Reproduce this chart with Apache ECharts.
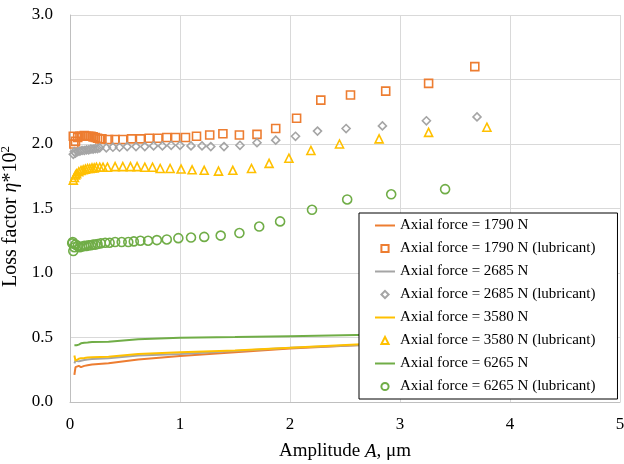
<!DOCTYPE html>
<html><head><meta charset="utf-8">
<script src="https://cdn.jsdelivr.net/npm/echarts@6/dist/echarts.min.js"></script>
<style>html,body{margin:0;padding:0;background:#fff}#c{width:624px;height:464px}</style>
</head><body><div id="c"></div>
<script>
// Amplitude ticks
const xTicks = [0, 1, 2, 3, 4, 5];
const yTicks = [0, 0.5, 1.0, 1.5, 2.0, 2.5, 3.0];

// Dry (no lubricant) lines
const lineX     = [0.04, 0.05, 0.06, 0.08, 0.10, 0.13, 0.16, 0.20, 0.35, 0.62, 1.0, 1.5, 2.0, 2.6, 3.2];
const line1790Y = [0.21, 0.27, 0.26, 0.28, 0.27, 0.28, 0.285, 0.29, 0.30, 0.33, 0.357, 0.385, 0.415, 0.44, 0.46];
const line2685Y = [0.30, 0.32, 0.31, 0.315, 0.32, 0.325, 0.33, 0.333, 0.34, 0.36, 0.373, 0.395, 0.42, 0.44, 0.46];
const line3580Y = [0.36, 0.32, 0.33, 0.335, 0.34, 0.342, 0.345, 0.347, 0.35, 0.372, 0.385, 0.40, 0.42, 0.445, 0.465];
const line6265Y = [0.44, 0.434, 0.44, 0.445, 0.455, 0.46, 0.462, 0.465, 0.467, 0.486, 0.498, 0.503, 0.51, 0.52, 0.525];

// Lubricant points [amplitude, loss factor]
const lub1790 = [[0.03,2.06],[0.035,2.00],[0.05,2.02],[0.07,2.05],[0.09,2.06],[0.11,2.06],[0.13,2.065],[0.15,2.06],[0.17,2.06],[0.19,2.06],[0.21,2.055],[0.23,2.05],[0.25,2.045],[0.27,2.04],[0.29,2.04],[0.35,2.035],[0.41,2.035],[0.48,2.035],[0.56,2.04],[0.64,2.04],[0.72,2.045],[0.80,2.045],[0.88,2.05],[0.96,2.05],[1.05,2.05],[1.15,2.06],[1.27,2.07],[1.39,2.08],[1.54,2.07],[1.70,2.075],[1.87,2.12],[2.06,2.20],[2.28,2.34],[2.55,2.38],[2.87,2.41],[3.26,2.47],[3.68,2.60]];
const lub2685 = [[0.03,1.92],[0.04,1.94],[0.05,1.93],[0.07,1.94],[0.09,1.945],[0.11,1.95],[0.13,1.95],[0.15,1.955],[0.17,1.955],[0.19,1.96],[0.21,1.96],[0.23,1.965],[0.25,1.965],[0.27,1.97],[0.33,1.97],[0.39,1.975],[0.45,1.975],[0.52,1.98],[0.60,1.98],[0.68,1.98],[0.76,1.985],[0.84,1.985],[0.92,1.99],[1.00,1.99],[1.10,1.985],[1.20,1.985],[1.28,1.98],[1.40,1.98],[1.545,1.99],[1.70,2.01],[1.87,2.03],[2.05,2.06],[2.25,2.10],[2.51,2.12],[2.84,2.14],[3.24,2.18],[3.70,2.21]];
const lub3580 = [[0.03,1.72],[0.04,1.74],[0.05,1.76],[0.06,1.77],[0.08,1.785],[0.10,1.795],[0.12,1.80],[0.14,1.805],[0.16,1.81],[0.18,1.81],[0.20,1.815],[0.22,1.815],[0.24,1.82],[0.27,1.82],[0.30,1.82],[0.34,1.82],[0.41,1.825],[0.48,1.825],[0.55,1.825],[0.61,1.825],[0.68,1.82],[0.75,1.82],[0.82,1.81],[0.91,1.81],[1.01,1.806],[1.11,1.80],[1.22,1.796],[1.35,1.79],[1.48,1.796],[1.65,1.81],[1.81,1.85],[1.99,1.89],[2.19,1.95],[2.45,2.00],[2.81,2.04],[3.26,2.09],[3.79,2.13]];
const lub6265 = [[0.02,1.23],[0.025,1.24],[0.03,1.17],[0.04,1.20],[0.05,1.22],[0.07,1.21],[0.09,1.20],[0.11,1.205],[0.13,1.21],[0.15,1.21],[0.17,1.215],[0.19,1.215],[0.21,1.22],[0.23,1.22],[0.25,1.225],[0.28,1.23],[0.32,1.235],[0.36,1.235],[0.41,1.24],[0.47,1.24],[0.53,1.24],[0.58,1.245],[0.64,1.25],[0.71,1.25],[0.79,1.255],[0.88,1.26],[0.985,1.27],[1.10,1.275],[1.22,1.28],[1.37,1.29],[1.54,1.31],[1.72,1.36],[1.91,1.40],[2.20,1.49],[2.52,1.57],[2.92,1.61],[3.41,1.65]];

const names = ['Axial force = 1790 N','Axial force = 1790 N (lubricant)','Axial force = 2685 N','Axial force = 2685 N (lubricant)','Axial force = 3580 N','Axial force = 3580 N (lubricant)','Axial force = 6265 N','Axial force = 6265 N (lubricant)'];
const colors = ['#ED7D31','#A5A5A5','#FFC000','#70AD47'];

const FF = '"Liberation Serif", "Times New Roman", serif';
const zip = (xs, ys) => xs.map((x, i) => [x, ys[i]]);

function lineSeries(name, ys, c) {
  return { name, type: 'line', data: zip(lineX, ys), symbol: 'none', smooth: false,
    lineStyle: { color: c, width: 2 }, itemStyle: { color: c }, z: 3 };
}
function lubSeries(name, data, c, sym, size) {
  return { name, type: 'line', data, symbol: sym, symbolSize: size, showSymbol: true, showAllSymbol: true,
    lineStyle: { opacity: 0, width: 0 },
    itemStyle: { color: 'rgba(255,255,255,0)', borderColor: c, borderWidth: 1.6, opacity: 1 }, z: 2 };
}

const legendData = names.map((n, i) => i % 2 === 0
  ? { name: n, itemStyle: { opacity: 0 } }
  : { name: n });

const chart = echarts.init(document.getElementById('c'), null, { renderer: 'canvas' });
chart.setOption({
  animation: false,
  backgroundColor: '#fff',
  grid: { left: 70, right: 4, top: 15, bottom: 62, containLabel: false, outerBoundsMode: 'none' },
  xAxis: {
    type: 'value', min: xTicks[0], max: xTicks[xTicks.length-1], interval: 1,
    name: '{a|Amplitude }{i|A}{a|, μm}', nameLocation: 'middle', nameGap: 40,
    nameTextStyle: { rich: { a: { fontFamily: FF, fontSize: 19, color: '#000' }, i: { fontFamily: FF, fontSize: 19, fontStyle: 'italic', color: '#000' } } },
    axisLine: { show: true, lineStyle: { color: '#BFBFBF', width: 1 } },
    axisTick: { show: false },
    axisLabel: { fontFamily: FF, fontSize: 17, color: '#000', margin: 14 },
    splitLine: { show: true, lineStyle: { color: '#D9D9D9', width: 1 } }
  },
  yAxis: {
    type: 'value', min: yTicks[0], max: yTicks[yTicks.length-1], interval: 0.5,
    name: '{a|Loss factor }{i|η}{a|*10}{s|2}', nameLocation: 'middle', nameGap: 44, nameRotate: 90,
    nameTextStyle: { padding: [0, 16, 0, 0], rich: {
      a: { fontFamily: FF, fontSize: 20, color: '#000' },
      i: { fontFamily: FF, fontSize: 20, fontStyle: 'italic', color: '#000' },
      s: { fontFamily: FF, fontSize: 13, color: '#000', padding: [0, 0, 10, 0] } } },
    axisLine: { show: true, lineStyle: { color: '#BFBFBF', width: 1 } },
    axisTick: { show: false },
    axisLabel: { fontFamily: FF, fontSize: 17, color: '#000', margin: 17, formatter: v => v.toFixed(1) },
    splitLine: { show: true, lineStyle: { color: '#D9D9D9', width: 1 } }
  },
  legend: {
    orient: 'vertical', left: 359, top: 213,
    backgroundColor: '#fff', borderColor: '#000', borderWidth: 1,
    padding: [5, 22, 5, 15], itemGap: 8, itemWidth: 20, itemHeight: 9,
    textStyle: { fontFamily: FF, fontSize: 15, color: '#000' },
    data: legendData
  },
  series: [
    lineSeries(names[0], line1790Y, colors[0]),
    lubSeries(names[1], lub1790, colors[0], 'rect', 8),
    lineSeries(names[2], line2685Y, colors[1]),
    lubSeries(names[3], lub2685, colors[1], 'diamond', 8),
    lineSeries(names[4], line3580Y, colors[2]),
    lubSeries(names[5], lub3580, colors[2], 'triangle', 8),
    lineSeries(names[6], line6265Y, colors[3]),
    lubSeries(names[7], lub6265, colors[3], 'circle', 9)
  ]
});
</script></body></html>
